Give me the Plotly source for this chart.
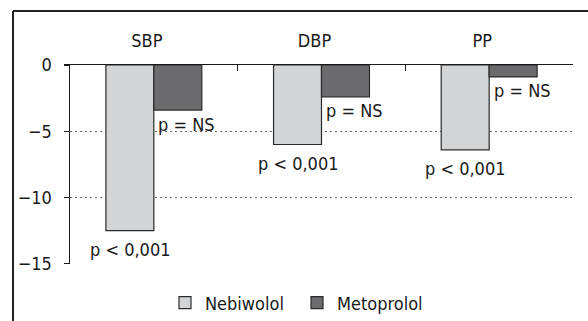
import plotly.graph_objects as go

categories = ["SBP", "DBP", "PP"]
nebiwolol = [-12.5, -6.0, -6.4]
metoprolol = [-3.4, -2.4, -0.9]
nebi_p = ["p < 0,001", "p < 0,001", "p < 0,001"]
meto_p = ["p = NS", "p = NS", "p = NS"]
y_ticks = [0, -5, -10, -15]

FONT = "DejaVu Sans Condensed, DejaVu Sans, sans-serif"
FS = 18

fig = go.Figure()
fig.add_trace(go.Bar(name="Nebiwolol", x=categories, y=nebiwolol,
                     marker=dict(color="#d3d4d6", line=dict(color="#2a2a2a", width=1.2))))
fig.add_trace(go.Bar(name="Metoprolol", x=categories, y=metoprolol,
                     marker=dict(color="#6c6c6f", line=dict(color="#2a2a2a", width=1.2))))

annotations = []
for c, v, t in zip(categories, nebiwolol, nebi_p):
    annotations.append(dict(x=c, y=v, text=t, showarrow=False, xshift=-24, yshift=-19,
                            yanchor="middle", xanchor="center",
                            font=dict(family=FONT, size=FS, color="#1a1a1a")))
for c, v, t in zip(categories, metoprolol, meto_p):
    annotations.append(dict(x=c, y=v, text=t, showarrow=False, xshift=33, yshift=-14,
                            yanchor="middle", xanchor="center",
                            font=dict(family=FONT, size=FS, color="#1a1a1a")))

shapes = [
    dict(type="line", xref="paper", yref="paper", x0=-0.1133, x1=1.04, y0=1.271, y1=1.271,
         line=dict(color="#222", width=2)),
    dict(type="line", xref="paper", yref="paper", x0=-0.1133, x1=-0.1133, y0=1.271, y1=-0.3,
         line=dict(color="#222", width=2)),
]

fig.update_layout(
    width=588, height=321,
    margin=dict(l=70, r=15, t=65, b=57, autoexpand=False),
    paper_bgcolor="white", plot_bgcolor="white",
    barmode="group", bargap=0.428, bargroupgap=0,
    font=dict(family=FONT, size=FS, color="#1a1a1a"),
    showlegend=True,
    legend=dict(orientation="h", xref="container", x=165 / 588, xanchor="left",
                yref="container", y=1 - 303 / 321, yanchor="middle",
                entrywidth=87, font=dict(family=FONT, size=FS), bgcolor="rgba(0,0,0,0)"),
    annotations=annotations,
    shapes=shapes,
    xaxis=dict(side="top", showline=True, linecolor="#1a1a1a", linewidth=1.5,
               ticks="inside", ticklen=6, tickcolor="#1a1a1a", tickwidth=1.5,
               tickson="boundaries", showgrid=False, zeroline=False,
               ticklabelshift=-7, ticklabelstandoff=9, automargin=False, fixedrange=True),
    yaxis=dict(range=[-15.02, 0], tickvals=y_ticks, showline=True, linecolor="#1a1a1a",
               linewidth=1.5, ticks="outside", ticklen=5, tickcolor="#1a1a1a", tickwidth=1.5,
               showgrid=True, gridcolor="#666", gridwidth=1, griddash="2px,3px",
               zeroline=False, ticklabelstandoff=8, automargin=False, fixedrange=True),
)

fig.write_html("out.html", post_script="document.body.style.margin='0';",
               config={"displayModeBar": False, "staticPlot": True})
